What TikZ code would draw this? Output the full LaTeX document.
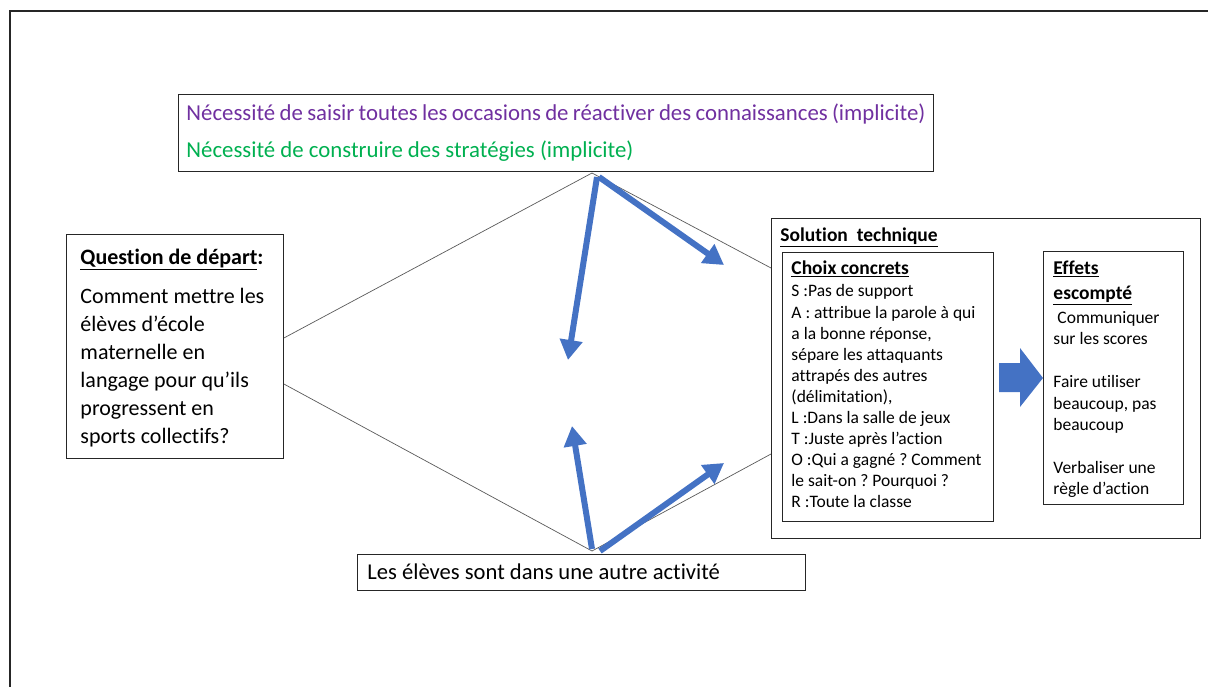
\documentclass[tikz,border=0pt]{standalone}
\usepackage{fontspec}
\setmainfont{Carlito}[Ligatures=NoCommon]
\usetikzlibrary{arrows.meta}
\definecolor{violetbesoin}{HTML}{7030A0}
\definecolor{vertbesoin}{HTML}{00B050}
\definecolor{bleufleche}{HTML}{4472C4}
\definecolor{grisligne}{HTML}{595959}
\frenchspacing

\begin{document}
\begin{tikzpicture}[x=1pt,y=-1pt,
    boite/.style={draw=black!85,line width=0.9pt,inner xsep=8pt,inner ysep=0pt,anchor=north west},
    losange/.style={draw=grisligne,line width=0.7pt},
    fleche/.style={draw=bleufleche,line width=6pt,-{Triangle[length=20pt,width=22pt]}}]
  \useasboundingbox (0,0) rectangle (1208,686);
  \draw[line width=2pt,black!85] (10,700) -- (10,11) -- (1220,11);
  % les besoins
  \node[boite] (besoin) at (178,94)
    {\parbox[c][77pt][t]{739pt}{\fontsize{22.8}{37}\selectfont
     \color{violetbesoin}\noindent\rule{0pt}{26pt}Nécessité de saisir toutes les occasions de réactiver des connaissances (implicite)\\
     \color{vertbesoin}Nécessité de construire des stratégies (implicite)}};
  % la question
  \node[boite,inner xsep=14pt] (question) at (66,234)
    {\parbox[c][224pt][t]{189pt}{\fontsize{22}{28}\selectfont
     \rule{0pt}{30pt}\textbf{\underline{Question de départ}:}\\[11pt]
     Comment mettre les\\ élèves d’école\\ maternelle en\\ langage pour qu’ils\\
     progressent en\\ sports collectifs?}};
  % la situation
  \node[boite,inner xsep=10pt] (activite) at (357,554)
    {\parbox[c][36pt][t]{428pt}{\fontsize{22.6}{27}\selectfont
     \rule{0pt}{25pt}Les élèves sont dans une autre activité}};
  % la solution
  \node[boite,inner xsep=9pt] (solution) at (771,218)
    {\parbox[c][320pt][t]{411pt}{\fontsize{19.5}{24}\selectfont\bfseries
     \rule{0pt}{23pt}\underline{Solution\ \ technique}}};
  \node[boite,inner xsep=9pt] (choix) at (782,252)
    {\parbox[c][269pt][t]{193pt}{\fontsize{17.5}{21.1}\selectfont
     \rule{0pt}{22.5pt}\textbf{\fontsize{19.5}{24}\selectfont\underline{Choix concrets}}\\[0.9pt]
     S :Pas de support\\
     A : attribue la parole à qui\\
     a la bonne réponse,\\
     sépare les attaquants\\
     attrapés des autres\\
     (délimitation),\\
     L :Dans la salle de jeux\\
     T :Juste après l’action\\
     O :Qui a gagné ? Comment\\
     le sait-on ? Pourquoi ?\\
     R :Toute la classe}};
  \node[boite,inner xsep=10pt] (effets) at (1043,251)
    {\parbox[c][253pt][t]{120pt}{\fontsize{17.5}{21.4}\selectfont
     \rule{0pt}{23.5pt}\textbf{\fontsize{19.5}{24}\selectfont\underline{Effets}}\\[3.1pt]
     \textbf{\fontsize{19.5}{24}\selectfont\underline{escompté}}\\[2.6pt]
     \hspace*{4pt}Communiquer\\ sur les scores\\[21.4pt]
     Faire utiliser\\ beaucoup, pas\\ beaucoup\\[21.4pt]
     Verbaliser une\\ règle d’action}};
  \fill[bleufleche] (999,363) -- (1020,363) -- (1020,348) -- (1043,378)
    -- (1020,407) -- (1020,392) -- (999,392) -- cycle;
  % le losange
  \coordinate (haut) at (592,173);
  \coordinate (bas) at (592,551);
  \draw[losange] (question.east |- 0,338) -- (haut) -- (solution.west |- 0,268);
  \draw[losange] (question.east |- 0,384) -- (bas) -- (solution.west |- 0,454);
  % les fleches
  \coordinate (hautA) at (597,177);
  \coordinate (hautB) at (599,177);
  \coordinate (basA) at (592,549);
  \coordinate (basB) at (600,551);
  \coordinate (p1) at (568,360);
  \coordinate (p2) at (724,265);
  \coordinate (p3) at (572,426);
  \coordinate (p4) at (724,463);
  \draw[fleche] (hautA) -- (p1);
  \draw[fleche] (hautB) -- (p2);
  \draw[fleche] (basA) -- (p3);
  \draw[fleche] (basB) -- (p4);
\end{tikzpicture}
\end{document}
